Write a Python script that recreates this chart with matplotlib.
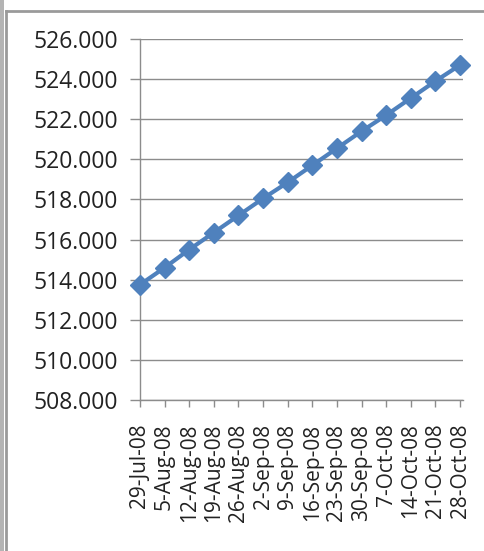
import matplotlib.pyplot as plt
from matplotlib.lines import Line2D
from matplotlib.patches import Rectangle

# weekly values
dates = ['29-Jul-08', '5-Aug-08', '12-Aug-08', '19-Aug-08', '26-Aug-08',
         '2-Sep-08', '9-Sep-08', '16-Sep-08', '23-Sep-08', '30-Sep-08',
         '7-Oct-08', '14-Oct-08', '21-Oct-08', '28-Oct-08']
values = [513.75, 514.6, 515.5, 516.35, 517.2, 518.05, 518.85,
          519.7, 520.55, 521.4, 522.2, 523.05, 523.9, 524.7]
yticks = [508, 510, 512, 514, 516, 518, 520, 522, 524, 526]

plt.rcParams['font.family'] = ['Open Sans', 'DejaVu Sans']

W, H = 484, 551
fig = plt.figure(figsize=(W / 100, H / 100), dpi=100)

# chart frame (left/top edges visible, rest cut off)
fig.patches.append(Rectangle((0, 0), 4 / W, 1, transform=fig.transFigure,
                             facecolor='#b4b4b4', edgecolor='none'))
fig.lines.append(Line2D([6 / W, 6 / W], [0, 1 - 11 / H], transform=fig.transFigure,
                        color='#9a9a9a', lw=2))
fig.lines.append(Line2D([6 / W, 1], [1 - 11 / H, 1 - 11 / H], transform=fig.transFigure,
                        color='#9a9a9a', lw=2))

x0, x1 = 140, 463
y0, y1 = 400, 39
ax = fig.add_axes([x0 / W, 1 - y0 / H, (x1 - x0) / W, (y0 - y1) / H])

x = list(range(len(dates)))
ax.plot(x, values, color='#4f81bd', lw=3, marker='D', markersize=10,
        markeredgecolor='#4f81bd', zorder=3, clip_on=False)

ax.set_xlim(0, len(dates) - 1 + 3 / 24.7)
ax.set_ylim(508, 526)
ax.set_yticks(yticks)
ax.set_yticklabels([f'{v:.3f}' for v in yticks])
ax.set_xticks(x)
ax.set_xticklabels(dates, rotation=90)

ax.grid(axis='y', color='#8c8c8c', lw=1)
ax.set_axisbelow(True)
for s in ['top', 'right']:
    ax.spines[s].set_visible(False)
for s in ['left', 'bottom']:
    ax.spines[s].set_color('#8c8c8c')
    ax.spines[s].set_linewidth(1)
ax.tick_params(axis='y', length=7, width=1, color='#8c8c8c', pad=9,
               labelsize=16.5, labelcolor='#222222')
ax.tick_params(axis='x', length=5, width=1, color='#8c8c8c', pad=12,
               labelsize=15, labelcolor='#222222')

fig.savefig('out.png', dpi=100)
